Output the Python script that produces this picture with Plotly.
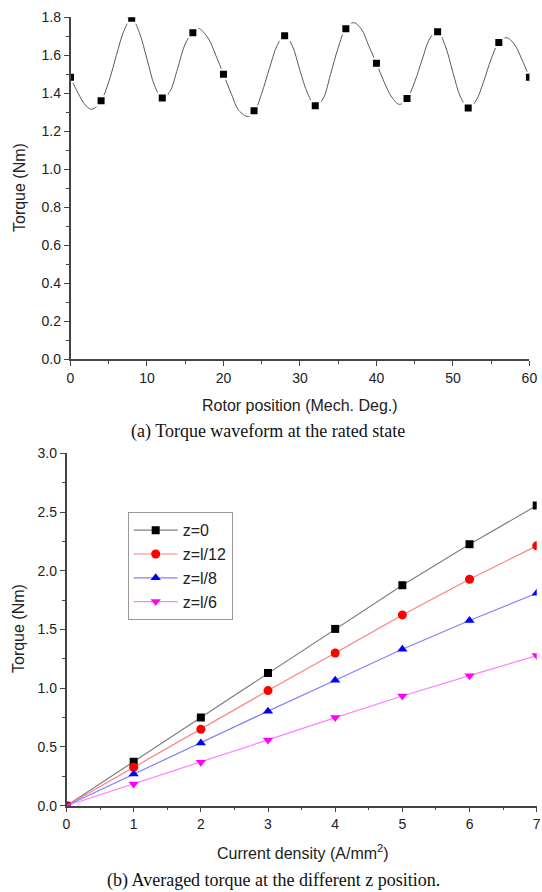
import plotly.graph_objects as go

# ---------- (a) torque waveform ----------
pos_markers = [0, 4, 8, 12, 16, 20, 24, 28, 32, 36, 40, 44, 48, 52, 56, 60]
torque_markers = [1.484, 1.361, 1.795, 1.375, 1.719, 1.500, 1.308, 1.703,
                  1.335, 1.740, 1.558, 1.372, 1.724, 1.323, 1.668, 1.484]

pos_line = [0, 1, 2, 2.8, 4, 5, 6, 7, 8, 9, 10, 11, 12, 13, 14, 15, 16, 16.7,
            18, 19, 20, 21, 22, 23.2, 24, 25, 26, 27, 28, 29, 30, 31, 32, 33,
            34, 35, 36, 37, 38, 39, 40, 41, 42, 43, 44, 45, 46, 47, 48, 49,
            50, 51, 52, 53, 54, 55, 56, 57, 58, 59, 60]
torque_line = [1.484, 1.40, 1.335, 1.316, 1.361, 1.46, 1.60, 1.73, 1.795, 1.72,
               1.58, 1.44, 1.372, 1.41, 1.53, 1.66, 1.722, 1.742,
               1.69, 1.60, 1.50, 1.40, 1.31, 1.278, 1.30, 1.40, 1.53, 1.65,
               1.706, 1.65, 1.52, 1.40, 1.335, 1.37,
               1.50, 1.64, 1.742, 1.772, 1.74, 1.65, 1.558, 1.46, 1.38, 1.342,
               1.37, 1.46, 1.58, 1.69, 1.727, 1.65,
               1.51, 1.38, 1.323, 1.36, 1.46, 1.58, 1.668, 1.693, 1.66, 1.58,
               1.484]

# ---------- (b) averaged torque ----------
current_density = [0, 1, 2, 3, 4, 5, 6, 7]
torque_z0 = [0, 0.375, 0.750, 1.130, 1.505, 1.877, 2.226, 2.555]
torque_z12 = [0, 0.327, 0.651, 0.980, 1.300, 1.624, 1.928, 2.212]
torque_z8 = [0, 0.270, 0.534, 0.805, 1.068, 1.332, 1.576, 1.809]
torque_z6 = [0, 0.185, 0.370, 0.560, 0.750, 0.934, 1.107, 1.278]
series_names = ["z=0", "z=l/12", "z=l/8", "z=l/6"]

W, H = 542, 892


def px(x):
    return min(1.0, max(0.0, x / W))


def py(y):
    return min(1.0, max(0.0, 1 - y / H))


fig = go.Figure()

fig.add_trace(go.Scatter(x=pos_line, y=torque_line, mode="lines",
                         line=dict(color="#5a5a5a", width=1, shape="spline", smoothing=1),
                         showlegend=False, xaxis="x", yaxis="y", hoverinfo="skip"))
fig.add_trace(go.Scatter(x=pos_markers, y=torque_markers, mode="markers",
                         marker=dict(symbol="square", size=9, color="black",
                                     line=dict(color="white", width=2)),
                         showlegend=False, xaxis="x", yaxis="y"))

styles = [
    ("square", "black", "#808080", 8),
    ("circle", "#ff0000", "#ff8080", 9),
    ("triangle-up", "#0000ff", "#8080ff", 9),
    ("triangle-down", "#ff00ff", "#ff80ff", 9),
]
for name, ys, (sym, mc, lc, ms) in zip(series_names,
                                       [torque_z0, torque_z12, torque_z8, torque_z6],
                                       styles):
    fig.add_trace(go.Scatter(x=current_density, y=ys, mode="lines+markers", name=name,
                             line=dict(color=lc, width=1.2),
                             marker=dict(symbol=sym, size=ms, color=mc),
                             xaxis="x2", yaxis="y2"))

tickfont = dict(family="Liberation Sans, Arial", size=14, color="#222")
axcommon = dict(showline=True, linecolor="#444", linewidth=1.5, ticks="outside",
                ticklen=5, tickwidth=1.3, tickcolor="#444", showgrid=False,
                zeroline=False, tickfont=tickfont, mirror=False, automargin=False)

fig.update_layout(
    template="none",
    width=W, height=H, margin=dict(l=0, r=0, t=0, b=0, pad=0, autoexpand=False),
    paper_bgcolor="white", plot_bgcolor="white",
    xaxis=dict(domain=[px(70.5), px(529.4)], range=[0, 60], dtick=10, anchor="y",
               minor=dict(dtick=5, ticks="outside", ticklen=3, tickcolor="#444"),
               **axcommon),
    yaxis=dict(domain=[py(359.3), py(17.3)], range=[0, 1.8], dtick=0.2,
               tickformat=".1f", anchor="x",
               minor=dict(dtick=0.1, ticks="outside", ticklen=3, tickcolor="#444"),
               **axcommon),
    xaxis2=dict(domain=[px(66.5), px(536.7)], range=[0, 7], dtick=1, anchor="y2",
                minor=dict(dtick=0.5, ticks="outside", ticklen=3, tickcolor="#444"),
                **axcommon),
    yaxis2=dict(domain=[py(805.7), py(453.3)], range=[0, 3], dtick=0.5,
                tickformat=".1f", anchor="x2",
                minor=dict(dtick=0.25, ticks="outside", ticklen=3, tickcolor="#444"),
                **axcommon),
    legend=dict(x=px(127.7), y=py(512.3), xanchor="left", yanchor="top",
                bgcolor="white", bordercolor="#999", borderwidth=1,
                font=dict(family="Liberation Sans, Arial", size=16, color="#222"),
                tracegroupgap=0, itemwidth=44),
)

sans = dict(family="Liberation Sans, Arial", size=16, color="#222")
serif = dict(family="Liberation Serif, Times New Roman", size=18, color="#111")
ann = [
    dict(text="Torque (Nm)", x=px(20), y=py(188), textangle=-90, font=sans),
    dict(text="Rotor position (Mech. Deg.)", x=px(300), y=py(405), font=sans),
    dict(text="(a) Torque waveform at the rated state", x=px(268), y=py(431), font=serif),
    dict(text="Torque (Nm)", x=px(18), y=py(629), textangle=-90, font=sans),
    dict(text="Current density (A/mm<sup>2</sup>)", x=px(303), y=py(852), font=sans),
    dict(text="(b) Averaged torque at the different z position.", x=px(273), y=py(880), font=serif),
]
for a in ann:
    fig.add_annotation(xref="paper", yref="paper", xanchor="center", yanchor="middle",
                       showarrow=False, **a)

fig.write_html("out.html")
